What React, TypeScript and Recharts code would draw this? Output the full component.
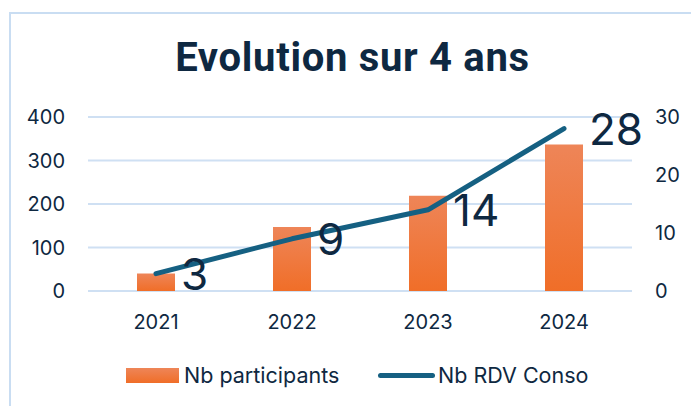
import { ComposedChart, Bar, Line, XAxis, YAxis, CartesianGrid, Legend, LabelList } from 'recharts';

const years = ['2021', '2022', '2023', '2024'];
const participants = [40, 147, 219, 337];
const rdvConso = [3, 9, 14, 28];
const leftTicks = [0, 100, 200, 300, 400];
const rightTicks = [0, 10, 20, 30];

const data = years.map((year, i) => ({
  year,
  participants: participants[i],
  rdv: rdvConso[i],
}));

const TEXT = '#0E2841';
const LINE = '#156082';
const GRID = '#CFE0F3';
const FONT = 'Inter, "Open Sans", sans-serif';

// big value labels to the right of each line point
const renderValueLabel = (props: any) => {
  const { x, y, value } = props;
  return (
    <text x={Number(x) + 25} y={Number(y) + 16} fill={TEXT} fontSize={44} fontFamily={FONT}>
      {value}
    </text>
  );
};

const CustomLegend = () => (
  <div style={{ position: 'relative', height: 50, fontFamily: FONT, fontSize: 21.5, color: TEXT }}>
    <div style={{ position: 'absolute', left: 126, top: 18, width: 53, height: 15, background: 'linear-gradient(#EE8558, #F06E28)' }} />
    <span style={{ position: 'absolute', left: 184, top: 11, lineHeight: '28px' }}>Nb participants</span>
    <div style={{ position: 'absolute', left: 378, top: 23, width: 57, height: 5, borderRadius: 3, background: LINE }} />
    <span style={{ position: 'absolute', left: 438, top: 11, lineHeight: '28px' }}>Nb RDV Conso</span>
  </div>
);

export default function App() {
  return (
    <div style={{ position: 'absolute', left: 0, top: 0, width: 691, height: 406, background: '#fff', overflow: 'hidden' }}>
      <div style={{ position: 'absolute', left: 9, top: 12, right: -10, bottom: -10, borderLeft: '2px solid #C9DDF2', borderTop: '2px solid #C9DDF2' }} />
      <div
        style={{
          position: 'absolute', left: 0, width: 705, top: 34, textAlign: 'center',
          fontFamily: 'Roboto, sans-serif', fontWeight: 700, fontSize: 40, letterSpacing: 0.7, color: TEXT, lineHeight: '48px',
        }}
      >
        Evolution sur 4 ans
      </div>
      <div style={{ position: 'absolute', left: 0, top: 0 }}>
        <ComposedChart width={691} height={406} data={data} margin={{ top: 117, right: 0, left: 0, bottom: 6 }}>
          <defs>
            <linearGradient id="barFill" x1="0" y1="0" x2="0" y2="1">
              <stop offset="0%" stopColor="#EE8558" />
              <stop offset="100%" stopColor="#F06E28" />
            </linearGradient>
          </defs>
          <CartesianGrid yAxisId="left" vertical={false} stroke={GRID} strokeWidth={2} />
          <XAxis
            dataKey="year"
            axisLine={false}
            tickLine={false}
            tickSize={0}
            tickMargin={24}
            height={59}
            tick={{ fill: TEXT, fontSize: 20, fontFamily: FONT }}
          />
          <YAxis
            yAxisId="left"
            domain={[0, 400]}
            ticks={leftTicks}
            width={88}
            axisLine={false}
            tickLine={false}
            tickSize={0}
            tickMargin={23}
            tick={{ fill: TEXT, fontSize: 20, fontFamily: FONT }}
          />
          <YAxis
            yAxisId="right"
            orientation="right"
            domain={[0, 30]}
            ticks={rightTicks}
            width={59}
            axisLine={false}
            tickLine={false}
            tickSize={0}
            tickMargin={23}
            tick={{ fill: TEXT, fontSize: 20, fontFamily: FONT }}
          />
          <Legend verticalAlign="bottom" content={<CustomLegend />} />
          <Bar yAxisId="left" dataKey="participants" name="Nb participants" fill="url(#barFill)" barSize={38} isAnimationActive={false} />
          <Line
            yAxisId="right"
            dataKey="rdv"
            name="Nb RDV Conso"
            type="linear"
            stroke={LINE}
            strokeWidth={5}
            strokeLinecap="round"
            strokeLinejoin="round"
            dot={false}
            activeDot={false}
            isAnimationActive={false}
          >
            <LabelList dataKey="rdv" content={renderValueLabel} />
          </Line>
        </ComposedChart>
      </div>
    </div>
  );
}
